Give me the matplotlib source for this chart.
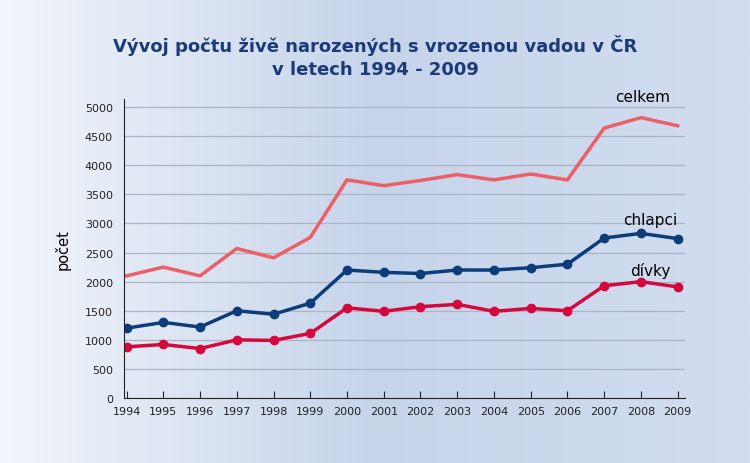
import numpy as np
import matplotlib
matplotlib.use("Agg")
import matplotlib.pyplot as plt
from matplotlib.colors import LinearSegmentedColormap

years = list(range(1994, 2010))
celkem = [2100, 2250, 2100, 2570, 2410, 2760, 3750, 3650, 3740, 3840, 3750, 3850, 3750, 4640, 4820, 4680]
chlapci = [1200, 1300, 1220, 1500, 1440, 1630, 2200, 2160, 2140, 2200, 2200, 2240, 2300, 2750, 2830, 2740]
divky = [880, 920, 850, 1000, 990, 1110, 1550, 1490, 1570, 1610, 1490, 1540, 1500, 1930, 2000, 1910]
yticks = list(range(0, 5001, 500))

W, H = 750, 464
fig = plt.figure(figsize=(W / 100, H / 100), dpi=100)

# background gradient
bg = fig.add_axes([0, 0, 1, 1], zorder=0)
cmap = LinearSegmentedColormap.from_list("bg", ["#f2f5fb", "#c6d4ea", "#d2ddef"])
grad = np.linspace(0, 1, 256)[None, :]
bg.imshow(grad, aspect="auto", cmap=cmap, extent=[0, 1, 0, 1])
bg.axis("off")

ax = fig.add_axes([124 / W, 1 - 399 / H, (685 - 124) / W, (399 - 100) / H], zorder=1)
ax.patch.set_alpha(0)
ax.set_xlim(1993.93, 2009.2)
ax.set_ylim(0, 5140)

ax.plot(years, celkem, color="#ec5f66", lw=2.5)
ax.plot(years, chlapci, color="#0d3c7a", lw=2.5, marker="o", ms=6)
ax.plot(years, divky, color="#d4083c", lw=2.5, marker="o", ms=6)

ax.set_yticks(yticks)
ax.set_xticks(years)
ax.yaxis.grid(True, color="#aab4c4", lw=0.9)
ax.set_axisbelow(True)
for s in ["top", "right"]:
    ax.spines[s].set_visible(False)
ax.spines["left"].set_color("#222222")
ax.spines["bottom"].set_color("#222222")
ax.tick_params(axis="y", length=0, labelsize=8, pad=8, colors="#222222")
ax.tick_params(axis="x", length=5, direction="in", labelsize=8, pad=6, colors="#222222")
ax.set_ylabel("počet", fontsize=10.5, labelpad=10)

ax.text(2008.8, 5050, "celkem", ha="right", va="bottom", fontsize=11)
ax.text(2009.0, 2940, "chlapci", ha="right", va="bottom", fontsize=11)
ax.text(2008.8, 2060, "dívky", ha="right", va="bottom", fontsize=11)

fig.text(0.5, 1 - 45 / H, "Vývoj počtu živě narozených s vrozenou vadou v ČR", ha="center",
         va="center", fontsize=13, color="#1a3a78", fontweight="bold")
fig.text(0.5, 1 - 70 / H, "v letech 1994 - 2009", ha="center", va="center",
         fontsize=13, color="#1a3a78", fontweight="bold")

fig.savefig("out.png", dpi=100)
